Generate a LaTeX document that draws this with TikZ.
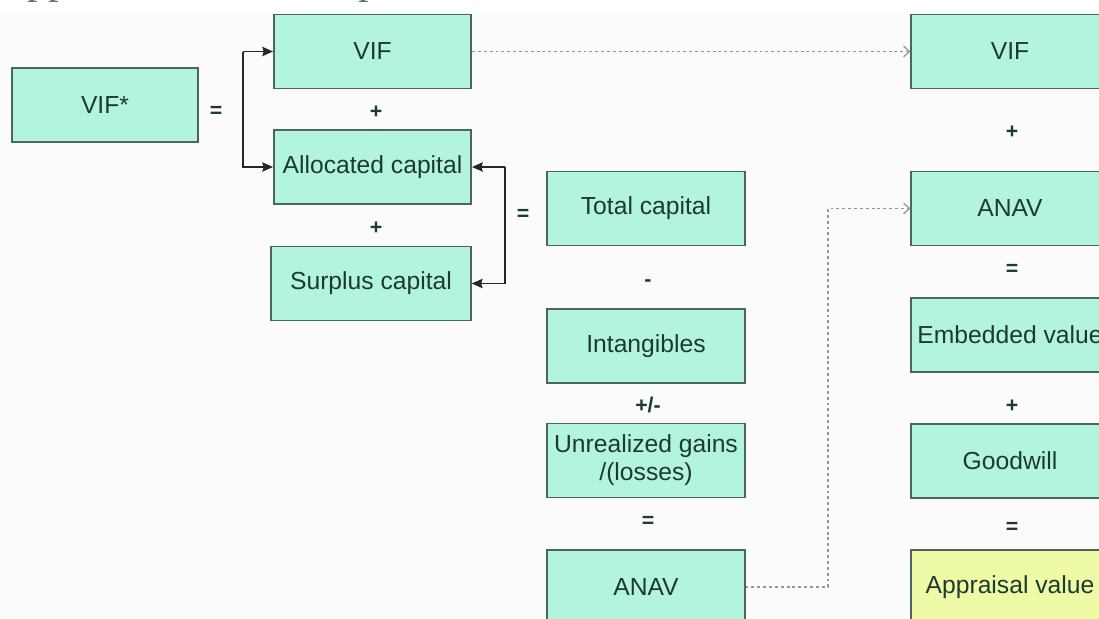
\documentclass[tikz,border=0pt]{standalone}
\usepackage{fontspec}
\setmainfont{Liberation Sans}
\newfontfamily\titlefont{Liberation Serif}
\usetikzlibrary{arrows.meta}

\definecolor{boxfill}{HTML}{B2F5DC}
\definecolor{valfill}{HTML}{EEFAA6}
\definecolor{boxline}{HTML}{4C665C}
\definecolor{boxtext}{HTML}{1E3A2F}
\definecolor{linkgray}{HTML}{959595}
\definecolor{titlegray}{HTML}{5B6B7E}
\definecolor{pageband}{HTML}{FBFBFB}

\begin{document}
\begin{tikzpicture}[x=0.75pt,y=-0.75pt,
  valuebox/.style={draw=boxline, fill=boxfill, line width=1.3pt,
    minimum width=148pt, minimum height=55.5pt, inner sep=2pt,
    align=center, text=boxtext, font=\fontsize{18.5}{21}\selectfont},
  opsign/.style={text=boxtext, inner sep=0pt,
    font=\bfseries\fontsize{16}{18}\selectfont},
  linkarrow/.style={draw=black!85, line width=1.1pt,
    -{Stealth[length=8pt,width=7pt,inset=1pt]}},
  flowlink/.style={draw=linkgray, line width=1.1pt, dash pattern=on 2.2pt off 2.2pt,
    -{Straight Barb[length=4.5pt,width=8pt,line width=0.9pt]}}]

\useasboundingbox (0,0) rectangle (1099,618);
\fill[white] (0,0) rectangle (1099,618);
\fill[pageband] (0,13) rectangle (1099,618);

\begin{scope}
\clip (0,0) rectangle (1099,618);

% heading line, set above the page edge so only descenders remain
\node[anchor=base west, inner sep=0pt, text=titlegray,
  font=\titlefont\fontsize{31.5}{36}\selectfont] (title) at (-3,-7)
  {Appraisal Value Components};

% left block: VIF* decomposition
\node[valuebox, minimum width=139.5pt] (vifstar) at (105,105) {VIF*};
\node[opsign] (eq1) at (216,112) {=};
\node[valuebox] (vif) at (372.5,51.5) {VIF};
\node[opsign] (plus1) at (376,112) {+};
\node[valuebox] (alloc) at (372.5,167) {Allocated capital};
\node[opsign] (plus2) at (376,228) {+};
\node[valuebox, minimum width=150pt] (surplus) at (371,283.5) {Surplus capital};

% middle column: ANAV derivation
\node[opsign] (eq2) at (523,215) {=};
\node[valuebox] (total) at (646,208.5) {Total capital};
\node[opsign] (minus1) at (648,283) {-};
\node[valuebox] (intang) at (646,346) {Intangibles};
\node[opsign] (pm1) at (648,405) {+/-};
\node[valuebox] (unreal) at (646,460.5) {Unrealized gains\\/(losses)};
\node[opsign] (eq3) at (648,522) {=};
\node[valuebox] (anav1) at (646,587) {ANAV};

% right column: appraisal value
\node[valuebox] (vif2) at (1010,51.5) {VIF};
\node[opsign] (plus3) at (1012,132) {+};
\node[valuebox] (anav2) at (1010,208.5) {ANAV};
\node[opsign] (eq4) at (1012,270) {=};
\node[valuebox] (ev) at (1010,335) {Embedded value};
\node[opsign] (plus4) at (1012,406) {+};
\node[valuebox] (gw) at (1010,461) {Goodwill};
\node[opsign] (eq5) at (1012,528) {=};
\node[valuebox, fill=valfill] (av) at (1010,587) {Appraisal value};

% brackets
\coordinate (lb) at (243,51.5);
\draw[linkarrow] (lb) -- (vif.west);
\draw[linkarrow] (lb) |- (alloc.west);
\coordinate (rb) at (505,167);
\draw[linkarrow] (rb) -- (alloc.east);
\draw[linkarrow] (rb) |- (surplus.east);

% carried-over values
\draw[flowlink] (vif.east) -- (vif2.west);
\coordinate (turn) at (828,400);
\draw[flowlink] (anav1.east) -- (anav1.east -| turn) -- (turn |- anav2.west) -- (anav2.west);
\end{scope}
\end{tikzpicture}
\end{document}
